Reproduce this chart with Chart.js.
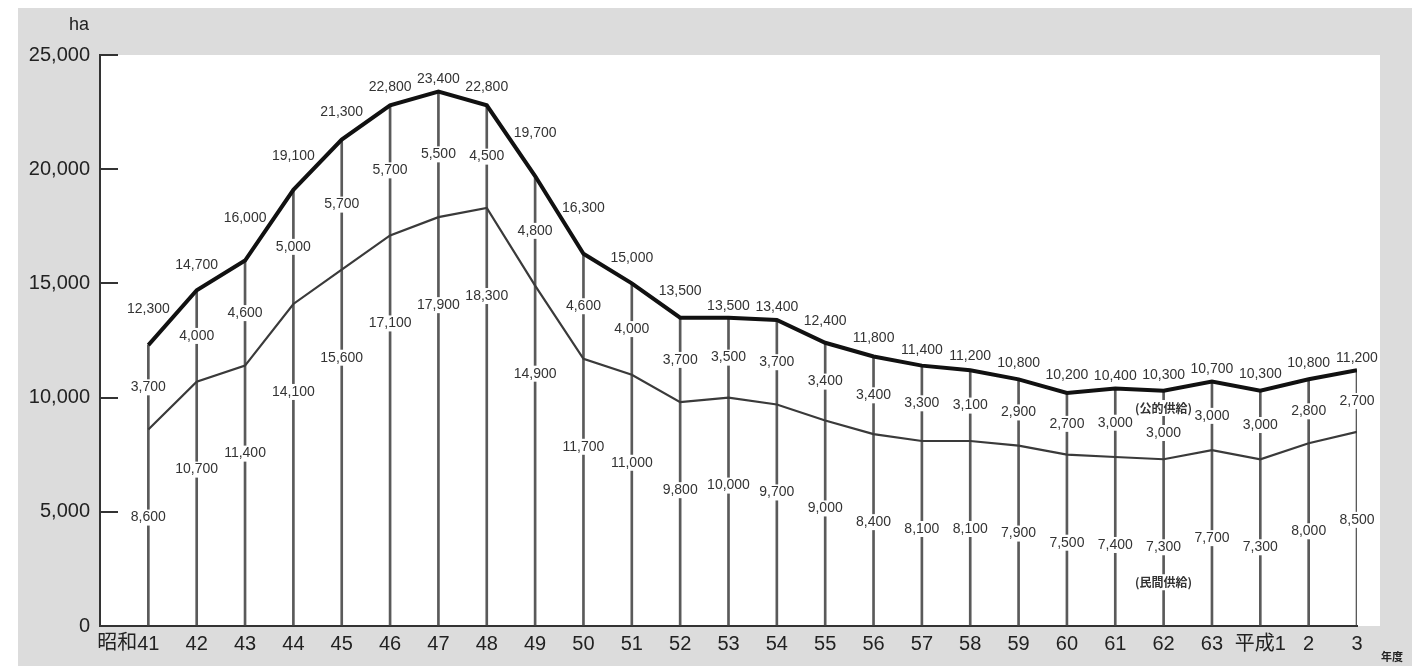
<!DOCTYPE html>
<html lang="ja">
<head>
<meta charset="utf-8">
<title>宅地供給量の推移</title>
<script src="https://cdn.jsdelivr.net/npm/chart.js@4.4.1/dist/chart.umd.min.js"></script>
<style>
  html, body { margin: 0; padding: 0; background: #fff; }
  #wrap { width: 1412px; height: 666px; position: relative; }
</style>
</head>
<body>
<div id="wrap"><canvas id="c" width="1412" height="666"></canvas></div>
<script>
// 年度 (昭和41 … 平成3); the era prefix of the first year is drawn separately, left of "41"
const years = ['41', '42', '43', '44', '45', '46', '47', '48', '49', '50', '51', '52', '53',
  '54', '55', '56', '57', '58', '59', '60', '61', '62', '63', '平成1', '2', '3'];
const firstEra = '昭和';
// 合計 (ha)
const totalSupply = [12300, 14700, 16000, 19100, 21300, 22800, 23400, 22800, 19700, 16300, 15000, 13500, 13500,
  13400, 12400, 11800, 11400, 11200, 10800, 10200, 10400, 10300, 10700, 10300, 10800, 11200];
// 公的供給 (ha)
const publicSupply = [3700, 4000, 4600, 5000, 5700, 5700, 5500, 4500, 4800, 4600, 4000, 3700, 3500,
  3700, 3400, 3400, 3300, 3100, 2900, 2700, 3000, 3000, 3000, 3000, 2800, 2700];
// 民間供給 (ha)
const privateSupply = [8600, 10700, 11400, 14100, 15600, 17100, 17900, 18300, 14900, 11700, 11000, 9800, 10000,
  9700, 9000, 8400, 8100, 8100, 7900, 7500, 7400, 7300, 7700, 7300, 8000, 8500];
const yTicks = [0, 5000, 10000, 15000, 20000, 25000];
const noteIndex = 21; // 「(公的供給)」「(民間供給)」 are written at 62年度

const fmt = (v) => v.toLocaleString('en-US');
const pts = (arr) => arr.map((v, i) => ({ x: i, y: v }));
const LABEL_FONT = '14px "Liberation Sans", Arial, sans-serif';
const TICK_FONT = '"Liberation Sans", "Noto Sans CJK JP", Arial, sans-serif';

// gray sheet + white plot panel
const backdrop = {
  id: 'backdrop',
  beforeDraw(chart) {
    const { ctx, chartArea: a } = chart;
    ctx.save();
    ctx.fillStyle = '#fff';
    ctx.fillRect(0, 0, chart.width, chart.height);
    ctx.fillStyle = '#dcdcdc';
    ctx.fillRect(18, 8, chart.width - 18, chart.height - 8);
    ctx.fillStyle = '#fff';
    ctx.fillRect(a.left, a.top, a.right - a.left + 23, a.bottom - a.top);
    ctx.restore();
  },
};

function boxedText(ctx, text, x, y) {
  const w = ctx.measureText(text).width;
  ctx.fillStyle = '#fff';
  ctx.fillRect(x - w / 2 - 2, y - 8, w + 4, 16);
  ctx.fillStyle = '#333';
  ctx.fillText(text, x, y);
}

// highest pixel of the total line within ±21px of point i, so its label clears the line
function lineTop(p, i) {
  let top = p[i].y;
  [i - 1, i + 1].forEach((j) => {
    if (j < 0 || j >= p.length) return;
    const t = 21 / Math.abs(p[j].x - p[i].x);
    top = Math.min(top, p[i].y + (p[j].y - p[i].y) * t);
  });
  return top;
}

// value labels: total above, public between the lines, private below.
// Drawn right after the stems (dataset 2) so both lines stay on top.
const valueLabels = {
  id: 'valueLabels',
  afterDatasetDraw(chart, args) {
    if (args.index !== 2) return;
    const { ctx } = chart;
    const tot = chart.getDatasetMeta(0).data;
    const pri = chart.getDatasetMeta(1).data;
    ctx.save();
    ctx.font = LABEL_FONT;
    ctx.textAlign = 'center';
    ctx.textBaseline = 'middle';
    for (let i = 0; i < years.length; i++) {
      const x = tot[i].x;
      const mid = (tot[i].y + pri[i].y) / 2;
      boxedText(ctx, fmt(totalSupply[i]), x, lineTop(tot, i) - 12);
      boxedText(ctx, fmt(publicSupply[i]), x, i === noteIndex ? mid + 8 : mid);
      boxedText(ctx, fmt(privateSupply[i]), x, pri[i].y + 88);
      if (i === noteIndex) {
        ctx.font = 'bold 12px "Noto Sans CJK JP", sans-serif';
        boxedText(ctx, '(公的供給)', x, mid - 17);
        boxedText(ctx, '(民間供給)', x, pri[i].y + 123);
        ctx.font = LABEL_FONT;
      }
    }
    ctx.restore();
  },
};

const captions = {
  id: 'captions',
  afterDraw(chart) {
    const { ctx } = chart;
    const xs = chart.scales.x;
    ctx.save();
    ctx.fillStyle = '#222';
    ctx.textBaseline = 'middle';
    ctx.textAlign = 'center';
    ctx.font = '18px "Liberation Sans", Arial, sans-serif';
    ctx.fillText('ha', 79, 25);
    ctx.font = 'bold 11px "Noto Sans CJK JP", sans-serif';
    ctx.fillText('年度', 1392, 657);
    // era prefix in front of the first year label
    ctx.font = '20px ' + TICK_FONT;
    ctx.textAlign = 'right';
    const half = ctx.measureText(years[0]).width / 2;
    ctx.fillText(firstEra, xs.getPixelForValue(0) - half, 643);
    ctx.restore();
  },
};

new Chart(document.getElementById('c'), {
  type: 'line',
  data: {
    datasets: [
      { label: '合計', data: pts(totalSupply), borderColor: '#111', borderWidth: 4, pointRadius: 0, tension: 0, order: 1 },
      { label: '民間供給', data: pts(privateSupply), borderColor: '#3a3a3a', borderWidth: 2.2, pointRadius: 0, tension: 0, order: 2 },
      { type: 'bar', label: 'stem', data: pts(totalSupply), backgroundColor: '#5a5a5a', barThickness: 2, order: 3 },
    ],
  },
  options: {
    responsive: false,
    animation: false,
    events: [],
    layout: { padding: { left: 0, top: 55, right: 55, bottom: 0 } },
    plugins: { legend: { display: false }, tooltip: { enabled: false } },
    scales: {
      x: {
        type: 'linear', min: -1, max: 25, offset: false,
        grid: { display: false, drawTicks: false },
        border: { display: true, color: '#333', width: 2 },
        ticks: {
          stepSize: 1, autoSkip: false, maxRotation: 0, padding: 6,
          color: '#222', font: { family: TICK_FONT, size: 20 },
          callback: (v) => (v >= 0 ? years[v] : ''),
        },
        afterFit: (s) => { s.height = 40; },
      },
      y: {
        min: 0, max: 25000,
        afterBuildTicks: (s) => { s.ticks = yTicks.map((v) => ({ value: v })); },
        grid: { display: true, drawOnChartArea: false, drawTicks: true, tickLength: -18, color: '#333', lineWidth: 2 },
        border: { display: true, color: '#333', width: 2 },
        ticks: {
          padding: 28, color: '#222',
          font: { family: '"Liberation Sans", Arial, sans-serif', size: 20 },
          callback: (v) => fmt(v),
        },
        afterFit: (s) => { s.width = 100; },
      },
    },
  },
  plugins: [backdrop, valueLabels, captions],
});
</script>
</body>
</html>
